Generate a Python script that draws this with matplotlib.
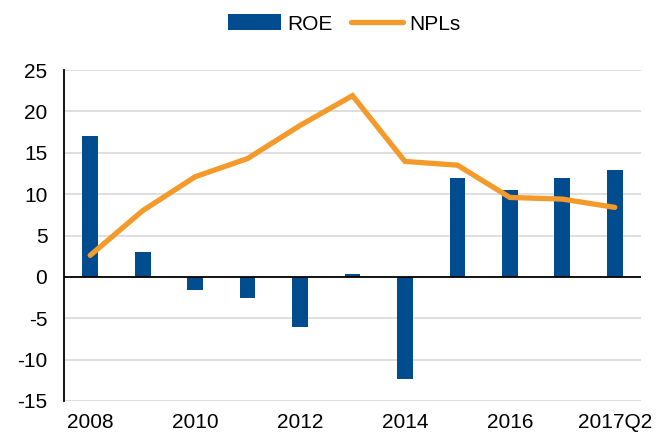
import numpy as np
import matplotlib
matplotlib.use("Agg")
import matplotlib.pyplot as plt

# ── Data ──────────────────────────────────────────────────────────────────────

CATEGORIES = ["2008", "2009", "2010", "2011", "2012", "2013", "2014",
              "2015", "2016", "2017", "2017Q2"]
ROE  = [17.0, 3.0, -1.6, -2.6, -6.0, 0.35, -12.4, 11.9, 10.45, 11.9, 12.9]
NPLS = [2.6, 8.0, 12.1, 14.3, 18.3, 21.9, 13.95, 13.5, 9.6, 9.4, 8.4]
TICK_LABELS = ["2008", "", "2010", "", "2012", "", "2014", "", "2016", "", "2017Q2"]
Y_TICKS = list(range(-15, 30, 5))

# ── Style ─────────────────────────────────────────────────────────────────────

plt.rcParams["font.family"] = ["Liberation Sans", "DejaVu Sans"]
BLUE   = "#004C8F"
ORANGE = "#F39A2B"
GRID   = "#D9D9D9"
FS     = 15

fig = plt.figure(figsize=(6.65, 4.38), dpi=100)
ax = fig.add_axes([64 / 665, 1 - 401 / 438, 577 / 665, 331 / 438])

x = np.arange(len(CATEGORIES)) + 0.5
bars = ax.bar(x, ROE, width=0.3, color=BLUE, label="ROE", zorder=3)
line, = ax.plot(x, NPLS, color=ORANGE, lw=3.8, solid_capstyle="round",
                solid_joinstyle="miter", label="NPLs", zorder=4)

ax.set_xlim(0, len(CATEGORIES))
ax.set_ylim(-15, 25)
ax.set_yticks(Y_TICKS)
ax.set_yticklabels([str(v) for v in Y_TICKS], fontsize=FS)
ax.set_xticks(x)
ax.set_xticklabels(TICK_LABELS, fontsize=FS)
ax.tick_params(axis="both", length=0)
ax.tick_params(axis="y", pad=12)
ax.tick_params(axis="x", pad=9)

for v in Y_TICKS:
    if v != 0:
        ax.axhline(v, color=GRID, lw=1.2, zorder=1)
ax.axhline(0, color="black", lw=1.3, zorder=5)

for s in ["top", "right", "bottom"]:
    ax.spines[s].set_visible(False)
ax.spines["left"].set_color("black")
ax.spines["left"].set_linewidth(1.3)

fig.legend([bars, line], ["ROE", "NPLs"], loc="upper center",
           bbox_to_anchor=(0.518, 1.01), ncol=2, frameon=False, fontsize=FS,
           handlelength=2.5, handleheight=0.8, handletextpad=0.3,
           columnspacing=0.9)

fig.savefig("out.png", dpi=100)
